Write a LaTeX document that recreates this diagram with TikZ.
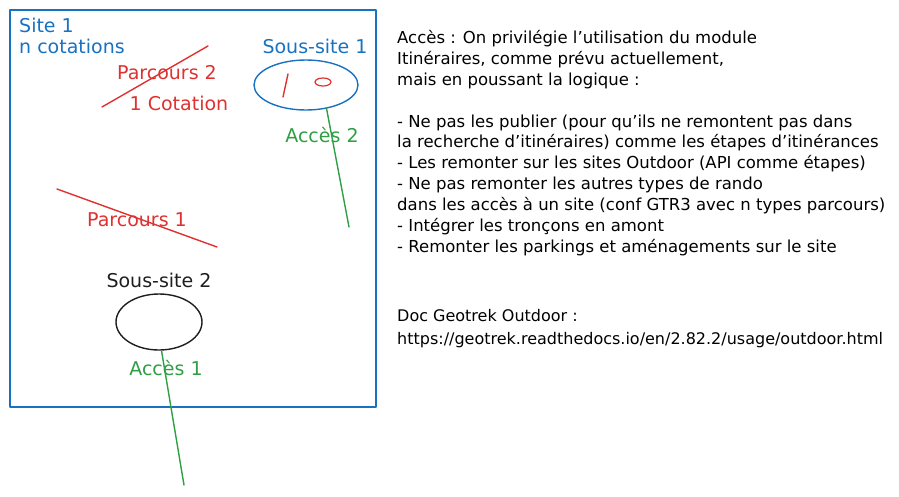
\documentclass[tikz,border=0pt]{standalone}
\usepackage{fontspec}
\setmainfont{DejaVu Sans}
\usetikzlibrary{shapes.geometric}
\usetikzlibrary{calc}

\definecolor{skblue}{HTML}{1971C2}
\definecolor{skred}{HTML}{E03131}
\definecolor{skgreen}{HTML}{2F9E44}
\definecolor{skblack}{HTML}{1E1E1E}

\begin{document}
\begin{tikzpicture}[x=1pt,y=-1pt,line cap=round,line join=round,
      txt/.style={inner sep=0pt,font=\fontsize{19}{21}\selectfont},
      lbl/.style={txt,text=#1},
      sitebox/.style={draw=skblue,line width=1.4pt,minimum width=366pt,minimum height=397pt,inner sep=0pt},
      souscercle/.style={ellipse,draw=#1,line width=1.4pt,inner sep=0pt},
      acces/.style={draw=skgreen,line width=1.4pt},
      barre/.style={draw=skred,line width=1.4pt}]
      \useasboundingbox (0,0) rectangle (899,496);
      % site et sous-sites
      \node[sitebox] (site) at (193,208.5) {};
      \node[lbl=skblue,anchor=north west,align=left,font=\fontsize{19}{20.5}\selectfont] (sitetxt) at (19,18) {Site 1\\n cotations};
      \node[lbl=skblue] (ss1txt) at (315,46) {Sous-site 1};
      \node[souscercle=skblue,minimum width=104pt,minimum height=50pt] (ss1) at (306,85) {};
      \node[souscercle=skred,minimum width=16pt,minimum height=8pt,line width=1.2pt] (rond) at (323,82) {};
      \coordinate (traitA) at (283,97);
      \coordinate (traitB) at (288,74);
      \draw[barre] (traitA) -- (traitB);
      \node[lbl=skblack] (ss2txt) at (159,280) {Sous-site 2};
      \node[souscercle=skblack,minimum width=86pt,minimum height=56pt] (ss2) at (159,322) {};
      % parcours
      \node[lbl=skred] (p2) at (167,73) {Parcours 2};
      \node[lbl=skred] (p2cot) at (179,103) {1 Cotation};
      \coordinate (p2a) at (102,107);
      \coordinate (p2b) at (208,46);
      \draw[barre] (p2a) -- (p2b);
      \node[lbl=skred] (p1) at (137,220) {Parcours 1};
      \coordinate (p1a) at (57,189);
      \coordinate (p1b) at (217,247);
      \draw[barre] (p1a) -- (p1b);
      % acces
      \coordinate (a2fin) at (349,227);
      \draw[acces] (ss1.-49) -- (a2fin);
      \node[lbl=skgreen] (a2) at (322,135) {Accès 2};
      \coordinate (a1fin) at (184,485);
      \draw[acces] (ss2.-85) -- (a1fin);
      \node[lbl=skgreen] (a1) at (166,368) {Accès 1};
      % notes
      \node[txt,anchor=north west,align=left,font=\fontsize{16.5}{20.9}\selectfont] (notes) at (397,30) {%
        Accès : On privilégie l'utilisation du module\\
        Itinéraires, comme prévu actuellement,\\
        mais en poussant la logique :\\[20.9pt]
        - Ne pas les publier (pour qu'ils ne remontent pas dans\\
        la recherche d'itinéraires) comme les étapes d'itinérances\\
        - Les remonter sur les sites Outdoor (API comme étapes)\\
        - Ne pas remonter les autres types de rando\\
        dans les accès à un site (conf GTR3 avec n types parcours)\\
        - Intégrer les tronçons en amont\\
        - Remonter les parkings et aménagements sur le site};
      \node[txt,anchor=north west,align=left,font=\fontsize{16}{23}\selectfont] (doc) at (397,309) {%
        Doc Geotrek Outdoor :\\
        https://geotrek.readthedocs.io/en/2.82.2/usage/outdoor.html};
    \end{tikzpicture}
\end{document}
